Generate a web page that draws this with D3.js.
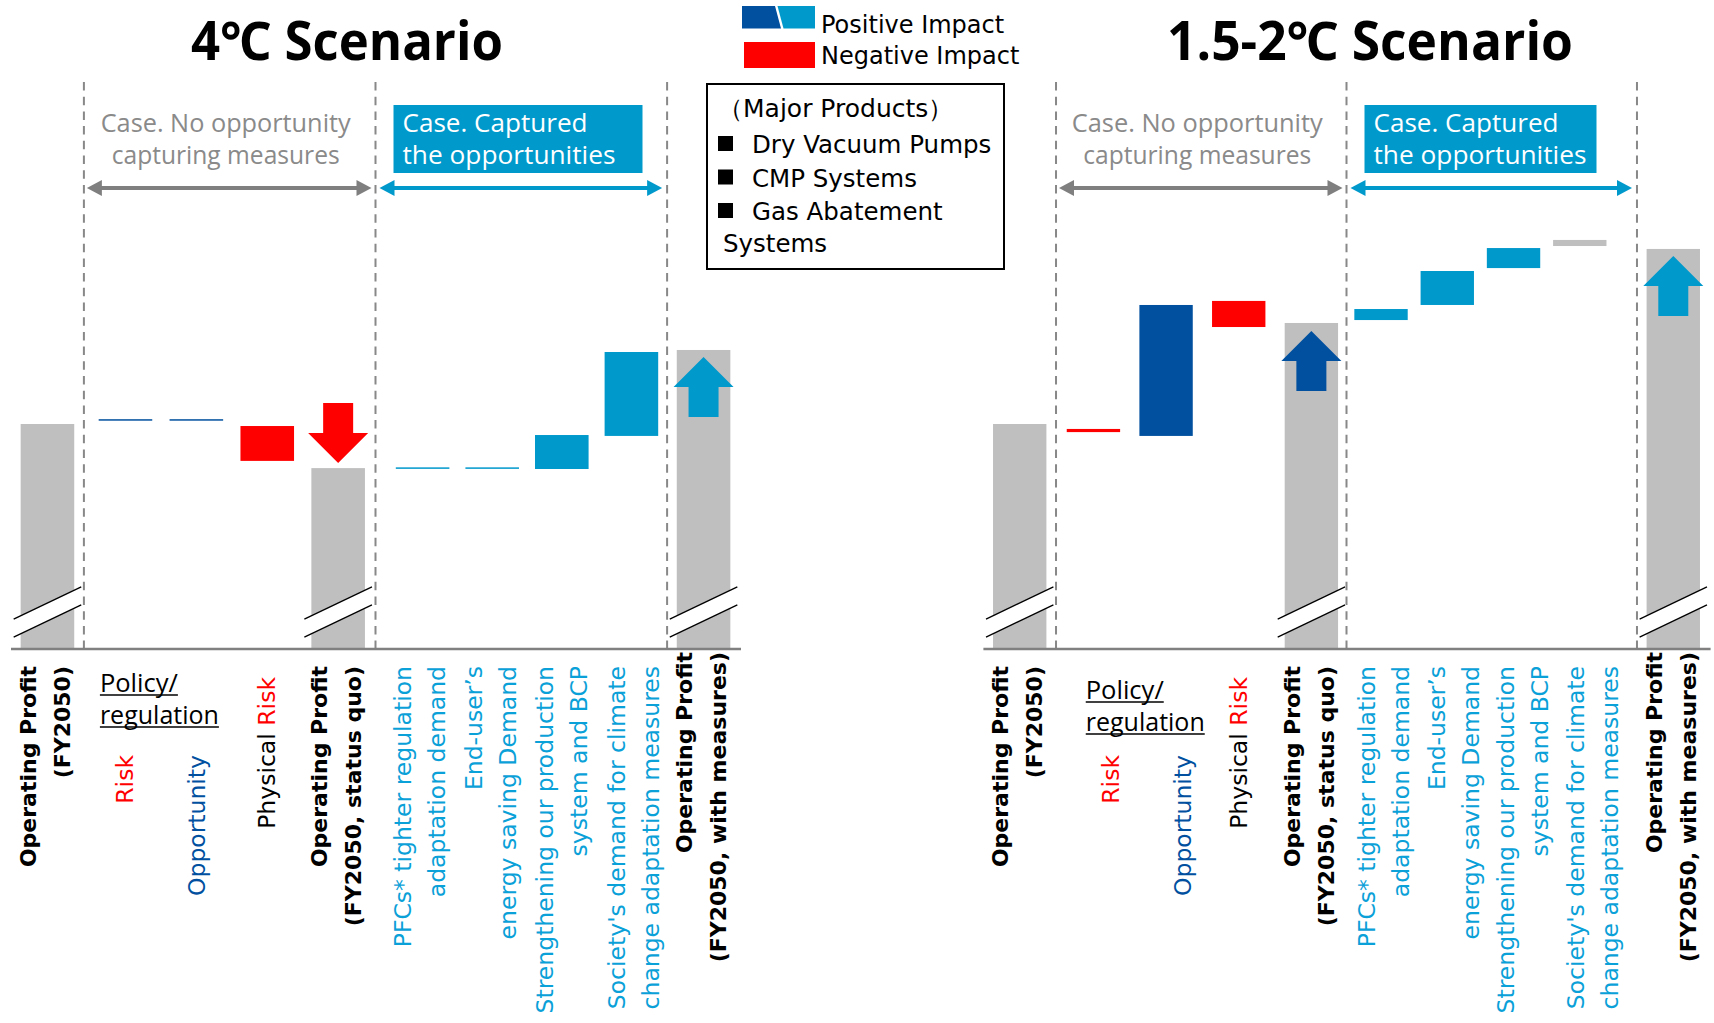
<!DOCTYPE html>
<html><head><meta charset="utf-8">
<script src="https://cdn.jsdelivr.net/npm/d3@7"></script>
<style>
html,body{margin:0;padding:0;background:#fff;}
svg{display:block;}
</style></head>
<body>
<svg id="chart" width="1714" height="1023"></svg>
<script>
// ---------------- data ----------------
const categories = ["base","policyRisk","policyOpportunity","physicalRisk","statusQuo","pfcs","endUser","bcp","society","withMeasures"];
const impactKinds4C  = ["total","positiveDark","positiveDark","negative","total","positiveLight","positiveLight","positiveLight","positiveLight","total"];
const impactKinds15C = ["total","negative","positiveDark","negative","total","positiveLight","positiveLight","positiveLight","neutral","total"];
// operating-profit index (FY2050 = 100); waterfall steps drawn from -> to
const barFrom4C  = [0, 101.8, 101.8, 99.1, 0, 80.4, 80.4, 80.0, 94.7, 0];
const barTo4C    = [100, 101.8, 101.8, 83.6, 80.4, 80.4, 80.4, 95.1, 132.0, 132.9];
const barFrom15C = [0, 97.8, 94.7, 154.7, 0, 146.2, 152.9, 169.3, 179.1, 0];
const barTo15C   = [100, 96.4, 152.9, 143.1, 144.9, 151.1, 168.0, 178.2, 181.8, 177.8];
const labelLines = [
  ["Operating Profit","(FY2050)"],
  ["Risk"],
  ["Opportunity"],
  ["Physical Risk"],
  ["Operating Profit","(FY2050, status quo)"],
  ["PFCs* tighter regulation","adaptation demand"],
  ["End-user\u2019s","energy saving Demand"],
  ["Strengthening our production","system and BCP"],
  ["Society's demand for climate","change adaptation measures"],
  ["Operating Profit","(FY2050, with measures)"]
];
const labelGroups = ["total","risk","opportunity","physical","total","captured","captured","captured","captured","total"];
const groupHeader = ["Policy/","regulation"];
const caseNoTexts = ["Case. No opportunity","capturing measures"];
const caseCapturedTexts = ["Case. Captured","the opportunities"];
const titles = ["4\u2103 Scenario","1.5-2\u2103 Scenario"];
const legendLabels = ["Positive Impact","Negative Impact"];
const productsHeader = "\uFF08Major Products\uFF09";
const productItems = ["Dry Vacuum Pumps","CMP Systems","Gas Abatement"];
const productWrap = "Systems";

// ---------------- style / layout ----------------
const COL = {
  total:"#bfbfbf", neutral:"#bfbfbf", negative:"#ff0000",
  positiveDark:"#00509f", positiveLight:"#0099cc",
  grayText:"#8a8a8a", grayLine:"#7f7f7f", lightText:"#0aa0d8"
};
const FONT_LBL = "'DejaVu Sans', Verdana, sans-serif";
const FONT_COND = "'Open Sans', 'Noto Sans', sans-serif";

const svg = d3.select("#chart");
const y = d3.scaleLinear().domain([0, 252]).range([649, 82]);

const panels = [
  {title: titles[0], from: barFrom4C, to: barTo4C, kinds: impactKinds4C,
   x0: 11, x1: 740, g2: [90, 373.6], g3: [387.8, 666.2],
   titleX: 347, titleW: 312, boxW: 249, caseW: [250,228], hdrY: 692, hdrDx: -61},
  {title: titles[1], from: barFrom15C, to: barTo15C, kinds: impactKinds15C,
   x0: 983.4, x1: 1709.6, g2: [1057.1, 1347.7], g3: [1347.9, 1612.9],
   titleX: 1370, titleW: 406, boxW: 232, caseW: [251,228], hdrY: 699, hdrDx: -44}
];

function dblArrow(g, xa, xb, yy, color) {
  const hl = 15, hh = 8;
  g.append("line").attr("x1", xa + hl - 1).attr("x2", xb - hl + 1)
    .attr("y1", yy).attr("y2", yy).attr("stroke", color).attr("stroke-width", 4);
  g.append("path").attr("d", `M${xa},${yy}L${xa+hl},${yy-hh}L${xa+hl},${yy+hh}Z`).attr("fill", color);
  g.append("path").attr("d", `M${xb},${yy}L${xb-hl},${yy-hh}L${xb-hl},${yy+hh}Z`).attr("fill", color);
}

function blockArrow(g, xc, tipY, dir, color) {
  // dir = -1 up (tip on top), +1 down (tip at bottom)
  const hw = 30, sw = 15, hl = 30, len = 60;
  const s = -dir;
  const pts = [
    [xc, tipY], [xc + hw, tipY + s*hl], [xc + sw, tipY + s*hl], [xc + sw, tipY + s*len],
    [xc - sw, tipY + s*len], [xc - sw, tipY + s*hl], [xc - hw, tipY + s*hl]
  ];
  g.append("path").attr("d", "M" + pts.map(p => p.join(",")).join("L") + "Z").attr("fill", color);
}

panels.forEach(p => {
  const g = svg.append("g");
  // slot scale (separators, totals)
  const x = d3.scaleBand().domain(categories).range([p.x0, p.x1])
    .paddingInner(0.265).paddingOuter(0.1325);
  const step = x.step(), bw = x.bandwidth();
  // group scales for the waterfall steps inside each case section
  const grp2 = categories.slice(1, 5), grp3 = categories.slice(5, 9);
  const xg2 = d3.scaleBand().domain(grp2).range(p.g2).paddingInner(0.265).paddingOuter(0.1325);
  const xg3 = d3.scaleBand().domain(grp3).range(p.g3).paddingInner(0.265).paddingOuter(0.1325);
  const slotC = c => x(c) + bw / 2;
  const barC = c => grp2.includes(c) ? xg2(c) + xg2.bandwidth() / 2
                  : grp3.includes(c) ? xg3(c) + xg3.bandwidth() / 2 : slotC(c);

  const boundary = i => x(categories[i]) - (step - bw) / 2;
  const dashX = [boundary(1), boundary(5), boundary(9)];
  const base = y(0);
  const hx = (barC(categories[1]) + barC(categories[2])) / 2 + p.hdrDx;

  const labelC = (c, grp) => grp === "risk" ? hx + 25
                         : grp === "opportunity" ? hx + 97
                         : grp3.includes(c) ? (barC(c) + slotC(c)) / 2 + 5 : barC(c);

  // title
  g.append("text").attr("x", p.titleX).attr("y", 60).attr("text-anchor", "middle")
    .attr("font-family", FONT_COND).attr("font-weight", 700).attr("font-size", 53)
    .attr("textLength", p.titleW).attr("lengthAdjust", "spacingAndGlyphs")
    .attr("fill", "#000").text(p.title);

  // bars
  categories.forEach((c, i) => {
    const kind = p.kinds[i];
    let yTop, yBot;
    if (kind === "total") { yTop = y(p.to[i]); yBot = base; }
    else {
      const a = y(p.from[i]), b = y(p.to[i]);
      yTop = Math.min(a, b); yBot = Math.max(a, b);
      if (yBot - yTop < 1.5) { const m = (yTop + yBot) / 2; yTop = m - 0.75; yBot = m + 0.75; }
    }
    g.append("rect").attr("x", barC(c) - bw / 2).attr("width", bw).attr("y", yTop).attr("height", yBot - yTop)
      .attr("fill", COL[kind]);
  });

  // break marks on total bars
  categories.forEach((c, i) => {
    if (p.kinds[i] !== "total") return;
    const xl = barC(c) - bw / 2 - 7, xr = barC(c) + bw / 2 + 7, yb = base - 37;
    const half = (xr - xl) / 2 * 0.478, gap = 9;
    g.append("path")
      .attr("d", `M${xl},${yb-gap+half}L${xr},${yb-gap-half}L${xr},${yb+gap-half}L${xl},${yb+gap+half}Z`)
      .attr("fill", "#fff");
    [-gap, gap].forEach(o => {
      g.append("line").attr("x1", xl).attr("y1", yb + o + half).attr("x2", xr).attr("y2", yb + o - half)
        .attr("stroke", "#000").attr("stroke-width", 1.3);
    });
  });

  // arrows inside totals
  const iSQ = categories.indexOf("statusQuo"), iWM = categories.indexOf("withMeasures");
  const xcSQ = barC(categories[iSQ]), xcWM = barC(categories[iWM]);
  if (p.to[iSQ] < p.to[0]) blockArrow(g, xcSQ, y(p.to[iSQ]) - 5, 1, COL.negative);
  else blockArrow(g, xcSQ, y(p.to[iSQ]) + 8, -1, COL.positiveDark);
  blockArrow(g, xcWM, y(p.to[iWM]) + 7, -1, COL.positiveLight);

  // dashed separators
  dashX.forEach(dx => {
    g.append("line").attr("x1", dx).attr("x2", dx).attr("y1", y.range()[1]).attr("y2", base)
      .attr("stroke", "#888").attr("stroke-width", 2).attr("stroke-dasharray", "8.5,6.2");
  });

  // baseline
  g.append("line").attr("x1", p.x0).attr("x2", p.x1 + 1).attr("y1", base).attr("y2", base)
    .attr("stroke", "#808080").attr("stroke-width", 2.5);

  // case headers
  const midNo = (dashX[0] + dashX[1]) / 2 - 4;
  caseNoTexts.forEach((t, k) => {
    g.append("text").attr("x", midNo).attr("y", 132 + k * 32).attr("text-anchor", "middle")
      .attr("font-family", FONT_COND).attr("font-size", 25).attr("fill", COL.grayText)
      .attr("textLength", p.caseW[k]).attr("lengthAdjust", "spacingAndGlyphs").text(t);
  });
  dblArrow(g, dashX[0] + 3, dashX[1] - 4, 188, COL.grayLine);

  const bx = dashX[1] + 18;
  g.append("rect").attr("x", bx).attr("y", 105).attr("width", p.boxW).attr("height", 68).attr("fill", COL.positiveLight);
  const capW = [185, 213];
  caseCapturedTexts.forEach((t, k) => {
    g.append("text").attr("x", bx + 9).attr("y", 132 + k * 32)
      .attr("font-family", FONT_COND).attr("font-size", 25).attr("fill", "#fff")
      .attr("textLength", capW[k]).attr("lengthAdjust", "spacingAndGlyphs").text(t);
  });
  dblArrow(g, dashX[1] + 4, dashX[2] - 5, 188, COL.positiveLight);

  // policy / regulation header (underlined)
  const hW = [78, 119];
  groupHeader.forEach((t, k) => {
    const by = p.hdrY + k * 32;
    g.append("text").attr("x", hx).attr("y", by).attr("font-family", FONT_COND).attr("font-size", 25)
      .attr("fill", "#000").attr("textLength", hW[k]).attr("lengthAdjust", "spacingAndGlyphs").text(t);
    g.append("line").attr("x1", hx).attr("x2", hx + hW[k]).attr("y1", by + 3).attr("y2", by + 3)
      .attr("stroke", "#000").attr("stroke-width", 1.4);
  });

  // category labels (rotated)
  categories.forEach((c, i) => {
    const lines = labelLines[i], grp = labelGroups[i], n = lines.length;
    const bold = grp === "total";
    const fs = bold ? 22 : 23.5, lh = 34;
    const cx = labelC(c, grp);
    let ay = 666;
    if (grp === "risk" || grp === "opportunity") ay = 755;
    if (grp === "physical") ay = 677;
    if (c === "withMeasures") ay = 652;
    const t = g.append("text").attr("transform", `translate(${cx},${ay}) rotate(-90)`)
      .attr("text-anchor", "end").attr("font-family", FONT_LBL).attr("font-size", fs)
      .attr("font-weight", bold ? 700 : 400);
    const fill = {total:"#000", risk:COL.negative, opportunity:COL.positiveDark, physical:"#000", captured:COL.lightText}[grp];
    lines.forEach((ln, k) => {
      const ly = (k - (n - 1) / 2) * lh + (n === 1 ? 8 : 5.5);
      if (grp === "physical") {
        const parts = ln.split(" ");
        t.append("tspan").attr("x", 0).attr("y", ly).attr("fill", "#000").text(parts[0] + " ");
        t.append("tspan").attr("fill", COL.negative).text(parts.slice(1).join(" "));
      } else {
        t.append("tspan").attr("x", 0).attr("y", ly).attr("fill", fill).text(ln);
      }
    });
  });
});

// ---------------- legend ----------------
const lg = svg.append("g");
lg.append("path").attr("d", "M742,6L775,6L781,28.5L742,28.5Z").attr("fill", COL.positiveDark);
lg.append("path").attr("d", "M777.5,6L815,6L815,28.5L783.5,28.5Z").attr("fill", COL.positiveLight);
lg.append("rect").attr("x", 744).attr("y", 42).attr("width", 71).attr("height", 26).attr("fill", COL.negative);
legendLabels.forEach((t, k) => {
  lg.append("text").attr("x", 821).attr("y", 33 + k * 31).attr("font-family", FONT_LBL)
    .attr("font-size", 24).attr("fill", "#000").text(t);
});

// products box
const pb = svg.append("g");
pb.append("rect").attr("x", 707).attr("y", 84).attr("width", 297).attr("height", 185)
  .attr("fill", "#fff").attr("stroke", "#000").attr("stroke-width", 2);
pb.append("text").attr("x", 718).attr("y", 117).attr("font-family", FONT_LBL).attr("font-size", 25)
  .attr("fill", "#000").text(productsHeader);
productItems.forEach((t, k) => {
  const by = 153 + k * 33.5;
  pb.append("rect").attr("x", 718).attr("y", by - 17).attr("width", 15).attr("height", 15).attr("fill", "#000");
  pb.append("text").attr("x", 752).attr("y", by).attr("font-family", FONT_LBL).attr("font-size", 24.5)
    .attr("fill", "#000").text(t);
});
pb.append("text").attr("x", 723).attr("y", 252).attr("font-family", FONT_LBL).attr("font-size", 24.5)
  .attr("fill", "#000").text(productWrap);
</script>
</body></html>
